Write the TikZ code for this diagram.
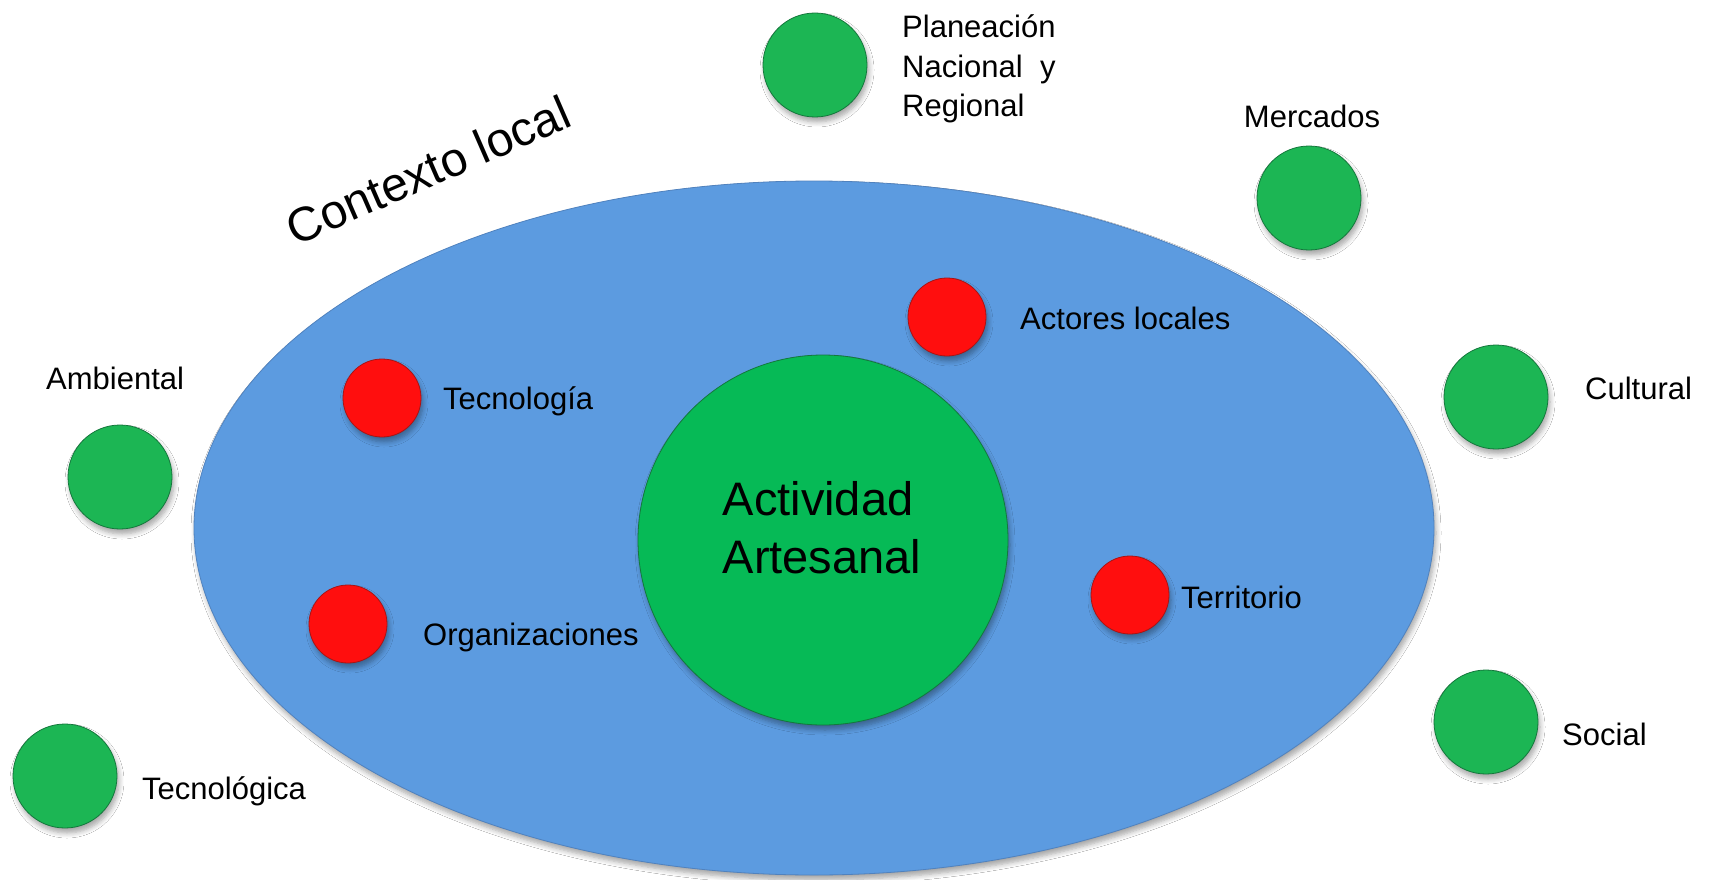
\documentclass[tikz,border=0pt]{standalone}
\usepackage{fontspec}
\setmainfont{Liberation Sans}
\usetikzlibrary{shadows.blur,shapes.geometric}
\definecolor{ctxblue}{RGB}{92,155,224}
\definecolor{ctxblueedge}{RGB}{80,130,190}
\definecolor{bigg}{RGB}{6,186,86}
\definecolor{dotg}{RGB}{28,182,84}
\definecolor{dotgedge}{RGB}{20,120,60}
\definecolor{dotr}{RGB}{255,14,14}
\definecolor{dotredge}{RGB}{170,20,20}
\tikzset{
  softshadow/.style={blur shadow={shadow xshift=2pt,shadow yshift=-5pt,shadow blur steps=6,shadow opacity=35,shadow blur radius=5pt}},
  outerdot/.style={circle,minimum size=104pt,inner sep=0pt,fill=dotg,draw=dotgedge,line width=0.8pt,softshadow},
  innerdot/.style={circle,minimum size=78pt,inner sep=0pt,fill=dotr,draw=dotredge,line width=0.8pt,softshadow},
  lbl/.style={font=\fontsize{31}{39}\selectfont,inner sep=0pt,anchor=base west},
}
\begin{document}
\begin{tikzpicture}[x=1pt,y=-1pt]
\useasboundingbox[fill=white] (0,0) rectangle (1710,880);
% context ellipse
\node[ellipse,draw=ctxblueedge,line width=0.8pt,fill=ctxblue,minimum width=1240pt,minimum height=694pt,inner sep=0pt,softshadow] (ctx) at (814,528) {};
\node[rotate=23.5,font=\fontsize{48}{56}\selectfont,inner sep=0pt] (ctxlbl) at (428,170) {Contexto local};
% central circle
\node[circle,minimum size=370pt,inner sep=0pt,fill=bigg,draw=dotgedge,line width=0.8pt,softshadow] (act) at (823,540) {};
\node[font=\fontsize{47}{58}\selectfont,inner sep=0pt,anchor=base] (actlbl) at (818,515) {Actividad};
\node[font=\fontsize{47}{58}\selectfont,inner sep=0pt,anchor=base] (actlbl2) at (822,573) {Artesanal};
% red dots
\node[innerdot] (tec) at (382,398) {};
\node[innerdot] (acl) at (947,317) {};
\node[innerdot] (org) at (348,624) {};
\node[innerdot] (ter) at (1130,595) {};
\node[lbl] (teclbl) at (443,409) {Tecnología};
\node[lbl] (acllbl) at (1020,329) {Actores locales};
\node[lbl] (orglbl) at (423,645) {Organizaciones};
\node[lbl] (terlbl) at (1181,608) {Territorio};
% green outer dots
\node[outerdot] (pln) at (815,65) {};
\node[outerdot] (mer) at (1309,198) {};
\node[outerdot] (cul) at (1496,397) {};
\node[outerdot] (amb) at (120,477) {};
\node[outerdot] (soc) at (1486,722) {};
\node[outerdot] (tcn) at (65,776) {};
\node[lbl] (pln1) at (902,38) {Planeación};
\node[lbl] (pln2) at (902,78) {Nacional\ \ y};
\node[lbl] (pln3) at (902,117) {Regional};
\node[lbl,anchor=base] (merlbl) at (1312,128) {Mercados};
\node[lbl] (cullbl) at (1585,399) {Cultural};
\node[lbl] (amblbl) at (46,389) {Ambiental};
\node[lbl] (soclbl) at (1562,745) {Social};
\node[lbl] (tcnlbl) at (142,799) {Tecnológica};
\end{tikzpicture}
\end{document}
